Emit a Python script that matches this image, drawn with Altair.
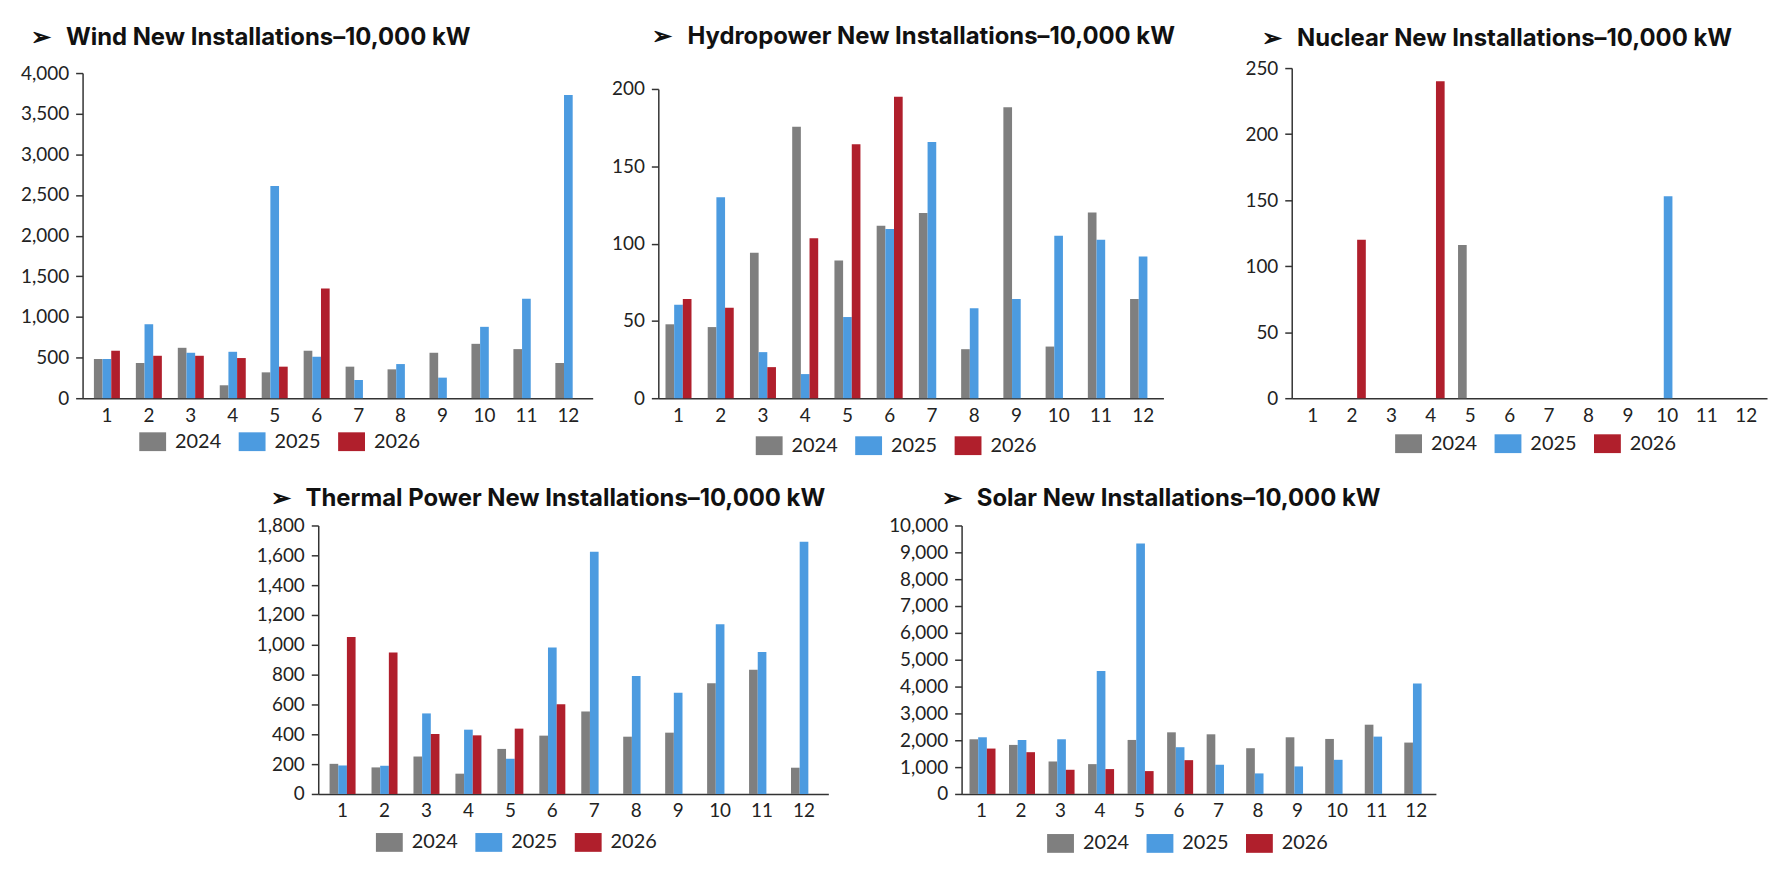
import altair as alt
import pandas as pd

months = list(range(1, 13))
years = ["2024", "2025", "2026"]
colors = ["#7f7f7f", "#4c9be0", "#b01f2c"]

wind_2024 = [482, 433, 620, 159, 318, 584, 388, 355, 559, 669, 604, 433]
wind_2025 = [482, 910, 559, 571, 2612, 510, 224, 420, 253, 878, 1224, 3731]
wind_2026 = [584, 522, 522, 494, 388, 1351, None, None, None, None, None, None]

hydro_2024 = [47.8, 46, 94, 175.6, 89, 111.6, 119.7, 31.7, 188.2, 33.4, 120.1, 64.2]
hydro_2025 = [60.4, 130, 29.8, 15.6, 52.5, 109.4, 165.7, 58.2, 64.2, 105.1, 102.4, 91.6]
hydro_2026 = [64.2, 58.5, 20.1, 103.4, 164.2, 195, None, None, None, None, None, None]

nuclear_2024 = [0, 0, 0, 0, 116, 0, 0, 0, 0, 0, 0, 0]
nuclear_2025 = [0, 0, 0, 0, 0, 0, 0, 0, 0, 153, 0, 0]
nuclear_2026 = [0, 120, 0, 240, 0, 0, None, None, None, None, None, None]

thermal_2024 = [202, 178, 251, 136, 302, 391, 553, 384, 411, 742, 833, 176]
thermal_2025 = [191, 189, 540, 431, 236, 982, 1624, 791, 678, 1138, 951, 1691]
thermal_2026 = [1053, 949, 402, 393, 438, 602, None, None, None, None, None, None]

solar_2024 = [2037, 1827, 1210, 1111, 2012, 2296, 2222, 1704, 2111, 2049, 2580, 1914]
solar_2025 = [2111, 2012, 2037, 4580, 9333, 1741, 1086, 765, 1025, 1272, 2136, 4111]
solar_2026 = [1691, 1556, 901, 926, 852, 1259, None, None, None, None, None, None]

FONT = "Lato"
TITLE_FONT = "Inter"


def panel(name, series, ymax, ystep, fmt, w, h, yrange, pad_outer, t_off, t_dx, lx, ly,
          pad_inner=0.38):
    rows = []
    for yr, vals in zip(years, series):
        for m, v in zip(months, vals):
            if v is not None:
                rows.append({"month": m, "year": yr, "value": v})
    df = pd.DataFrame(rows)

    # non-breaking spaces so the gap after the arrow survives in SVG
    title = alt.Title(
        text="\u27a2\u00a0\u00a0\u2009" + name + " New Installations\u201310,000 kW",
        anchor="start", frame="group", dx=t_dx, offset=t_off,
        font=TITLE_FONT, fontSize=24, fontWeight="bold", color="#111",
    )
    return alt.Chart(df, title=title).mark_bar().encode(
        x=alt.X("month:O",
                scale=alt.Scale(domain=months, paddingInner=pad_inner, paddingOuter=pad_outer),
                axis=alt.Axis(title=None, labelAngle=0, ticks=False, labelPadding=8)),
        xOffset=alt.XOffset("year:N", scale=alt.Scale(domain=years)),
        y=alt.Y("value:Q",
                scale=alt.Scale(domain=[0, ymax], nice=False, range=yrange),
                axis=alt.Axis(title=None, values=list(range(0, ymax + 1, ystep)),
                              format=fmt, grid=False, tickSize=7, labelPadding=7)),
        color=alt.Color("year:N",
                        scale=alt.Scale(domain=years, range=colors),
                        legend=alt.Legend(title=None, orient="none", direction="horizontal",
                                          legendX=lx, legendY=ly,
                                          symbolType="M-1,-0.7H1V0.7H-1Z", symbolSize=729,
                                          symbolStrokeWidth=0, symbolOpacity=1,
                                          labelFont=FONT, labelFontSize=20, labelColor="#222",
                                          labelOffset=9, columnPadding=17)),
    ).properties(width=w, height=h)


wind = panel("Wind", [wind_2024, wind_2025, wind_2026], 4000, 500, ",d",
             513, 332, [332, 5], 0.27, 14, -52, 57, 362)
hydro = panel("Hydropower", [hydro_2024, hydro_2025, hydro_2026], 200, 50, "d",
              508, 332, [332, 21], 0.17, 19, -6, 98, 366)
nuclear = panel("Nuclear", [nuclear_2024, nuclear_2025, nuclear_2026], 250, 50, "d",
                478, 332, [332, 0], 0.22, 8, -30, 104, 364)
thermal = panel("Thermal Power", [thermal_2024, thermal_2025, thermal_2026], 1800, 200, ",d",
                513, 270, [270, 0], 0.27, 6, -48, 58, 305)
solar = panel("Solar", [solar_2024, solar_2025, solar_2026], 10000, 1000, ",d",
              477, 270, [270, 0], 0.2, 6, -20, 86, 306, pad_inner=0.4)

spacer = alt.Chart(pd.DataFrame({"v": [0]})).mark_point(opacity=0).encode(
    x=alt.value(0), y=alt.value(0)
).properties(width=174, height=10)

top = alt.hconcat(
    alt.hconcat(wind, hydro, spacing=18).resolve_scale(color="independent"),
    nuclear, spacing=69,
).resolve_scale(color="independent")

bottom = alt.hconcat(
    spacer,
    alt.hconcat(thermal, solar, spacing=60).resolve_scale(color="independent"),
    spacing=0,
).resolve_scale(color="independent")

chart = alt.vconcat(top, bottom, spacing=31).resolve_scale(
    color="independent"
).properties(
    padding={"left": 12, "top": 15, "right": 4, "bottom": 5},
    background="white",
).configure_view(
    stroke=None
).configure_axis(
    labelFont=FONT, labelFontSize=19, labelColor="#222",
    domainColor="#333", domainWidth=1.5, tickColor="#333", tickWidth=1.5,
)

chart.save("out.html", embed_options={"renderer": "svg", "actions": False})
